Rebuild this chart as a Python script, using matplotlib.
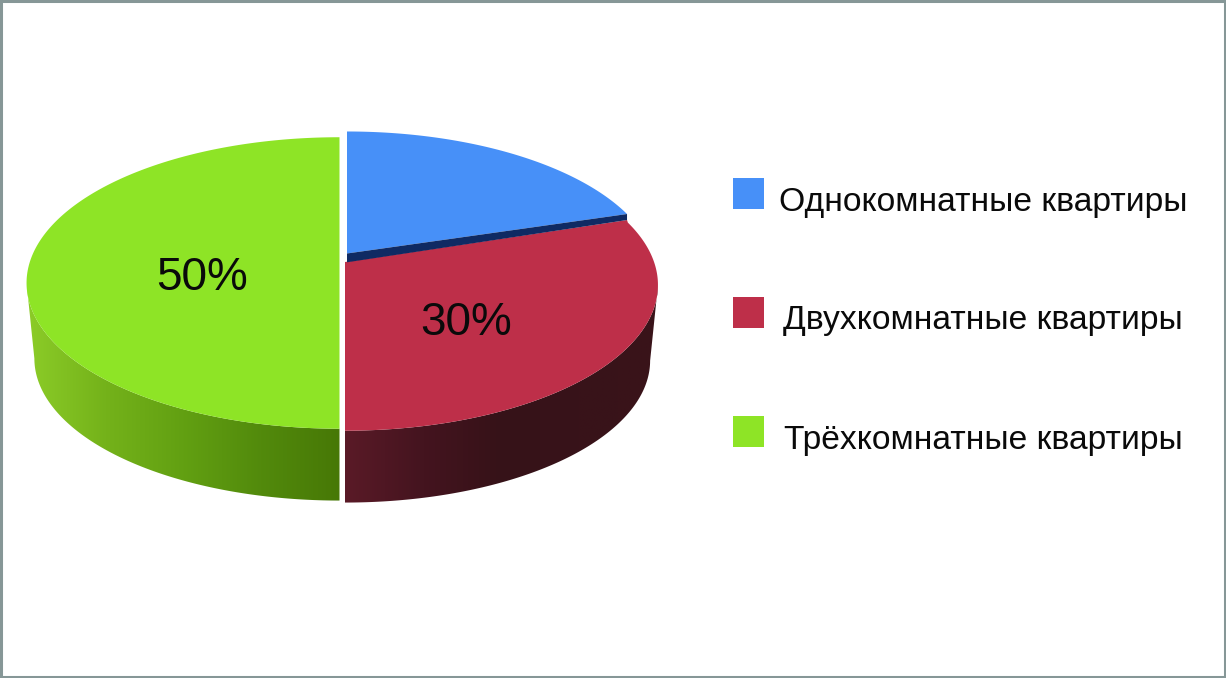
import numpy as np
import matplotlib
matplotlib.use("Agg")
import matplotlib.pyplot as plt
from matplotlib.patches import Polygon, Rectangle
from matplotlib.colors import LinearSegmentedColormap

# Data
categories = ["Однокомнатные квартиры", "Двухкомнатные квартиры", "Трёхкомнатные квартиры"]
shares = [20, 30, 50]
value_labels = [None, "30%", "50%"]

# Style
W, H = 1226, 678
top_colors = ["#4790F8", "#BE2F49", "#8EE426"]
cut_color = "#0F2A63"
frame_color = "#869797"
red_side = LinearSegmentedColormap.from_list("r", ["#5A1A27", "#44141F", "#361218", "#38131A", "#3A1319"])
green_side = LinearSegmentedColormap.from_list("g", ["#8CCC28", "#74B21A", "#62A012", "#528A0C", "#477806"])

RX, RY, K = 310.0, 143.0, 0.137
DEPTH, SIDE_SCALE = 76.0, 0.975


def project(theta, cx, cy, scale=1.0):
    """Perspective projection of a unit-circle rim; theta is clockwise from 12 o'clock."""
    x, y = np.sin(theta), np.cos(theta)
    d = 1 + K * y
    return cx + scale * RX * x / d, cy - scale * RY * y / d


fig = plt.figure(figsize=(W / 100, H / 100), dpi=100, facecolor="white")
ax = fig.add_axes([0, 0, 1, 1])
ax.set_xlim(0, W)
ax.set_ylim(H, 0)
ax.axis("off")

edges = np.deg2rad(np.cumsum([0] + shares) * 3.6)
# centre and scale of each slice's rim, and the point where its two cuts meet
rim_center = [(347, 256), (345, 265), (339.5, 263)]
rim_scale = [0.99, 1.0, 1.0]
apex = [(347, 253.5), (345, 262), (339.5, 263)]
side_cmaps = [None, red_side, green_side]


def draw_side(i):
    cx, cy = rim_center[i]
    t = np.linspace(edges[i], edges[i + 1], 400)
    px, _ = project(t, cx, cy)
    far = np.argmax(np.abs(px - cx))
    # only the part of the rim between the silhouette and the front is visible
    t = t[far:] if i == 1 else t[:far + 1]
    px, py = project(t, cx, cy)
    qx, qy = project(t, cx, cy + DEPTH, SIDE_SCALE)
    pts = np.r_[np.c_[px, py], np.c_[qx[::-1], qy[::-1]]]
    clip = Polygon(pts, closed=True, facecolor="none", edgecolor="none", transform=ax.transData)
    ax.add_patch(clip)
    x0, x1 = pts[:, 0].min(), pts[:, 0].max()
    grad = np.linspace(0, 1, 256).reshape(1, -1)
    im = ax.imshow(grad, cmap=side_cmaps[i], extent=(x0, x1, pts[:, 1].max(), pts[:, 1].min()),
                   aspect="auto", zorder=2, interpolation="bilinear")
    im.set_clip_path(clip)


def draw_top(i, first_point=None):
    cx, cy = rim_center[i]
    t = np.linspace(edges[i], edges[i + 1], 260)
    px, py = project(t, cx, cy, rim_scale[i])
    pts = [apex[i]] + ([first_point] if first_point else []) + list(zip(px, py))
    ax.add_patch(Polygon(pts, closed=True, facecolor=top_colors[i], edgecolor="none", zorder=3))


for i in [2, 1]:
    draw_side(i)
ax.set_xlim(0, W)
ax.set_ylim(H, 0)

# dark cut face under the blue slice; the red slice starts where it ends
tx, ty = project(edges[1], *rim_center[0], rim_scale[0])
cut_bottom = (tx, ty + 6.0)
draw_top(2)
draw_top(1, first_point=cut_bottom)
draw_top(0)
ax.add_patch(Polygon([apex[0], (tx, ty), cut_bottom, (apex[0][0], apex[0][1] + 8.8)],
                     closed=True, facecolor=cut_color, edgecolor="none", zorder=4))

# value labels
font = "Liberation Sans"
label_pos = [None, (466, 323), (202, 278)]
for lab, pos in zip(value_labels, label_pos):
    if lab:
        ax.text(pos[0], pos[1], lab, fontsize=33, family=font, color="#0a0a0a",
                ha="center", va="center", zorder=6)

# legend
swatch_y = [178, 297, 416]
text_x = [983, 983, 983]
text_y = [202, 321, 440]
text_size = [24.2, 24.25, 24.25]
for c, col, sy, tx_, ty_, fs in zip(categories, top_colors, swatch_y, text_x, text_y, text_size):
    ax.add_patch(Rectangle((733, sy), 31, 31, facecolor=col, edgecolor="none", zorder=5))
    ax.text(tx_, ty_, c, fontsize=fs, family=font, color="#0a0a0a",
            ha="center", va="center", zorder=6)

# outer frame
ax.add_patch(Rectangle((1, 1), W - 2, H - 2, fill=False, edgecolor=frame_color, linewidth=2.2, zorder=7))

fig.savefig("out.png", dpi=100, facecolor="white")
